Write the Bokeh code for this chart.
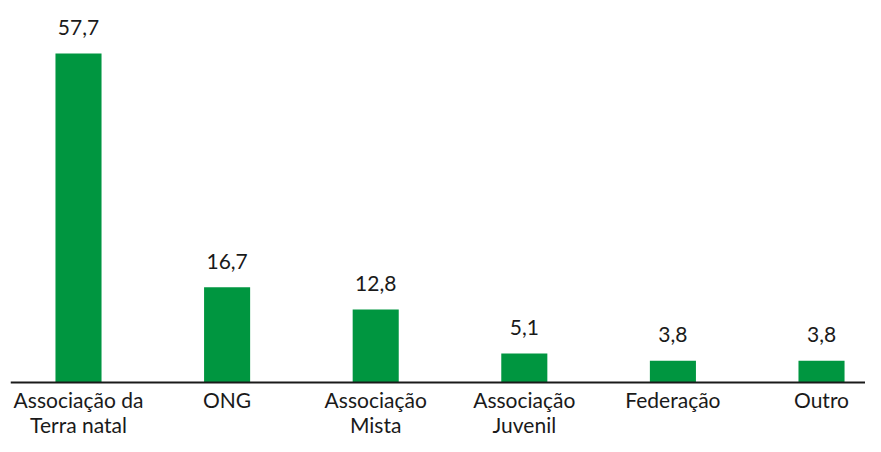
from bokeh.plotting import figure
from bokeh.models import Range1d, Span, ColumnDataSource
from bokeh.core.properties import value
from bokeh.embed import file_html
from bokeh.resources import INLINE

categories = ["Associação da\nTerra natal", "ONG", "Associação\nMista",
              "Associação\nJuvenil", "Federação", "Outro"]
values = [57.7, 16.7, 12.8, 5.1, 3.8, 3.8]
value_labels = ["57,7", "16,7", "12,8", "5,1", "3,8", "3,8"]

x = list(range(len(categories)))
src = ColumnDataSource(dict(x=x, top=values, cat=categories, lab=value_labels,
                            zero=[0] * len(x)))

p = figure(width=865, height=436, output_backend="svg", toolbar_location=None,
           x_range=Range1d(-0.4576, 5.296), y_range=Range1d(-9.47, 67.02),
           x_axis_location=None, y_axis_location=None,
           min_border_left=10, min_border_right=0, min_border_top=0, min_border_bottom=0)
p.outline_line_color = None
p.xgrid.visible = False
p.ygrid.visible = False
p.background_fill_color = "white"

p.vbar(x="x", top="top", bottom=0, width=0.31, source=src,
       fill_color="#009640", line_color=None)

p.add_layout(Span(location=0, dimension="width", line_color="#1a1a1a", line_width=2))

p.text(x="x", y="top", text="lab", source=src, text_align="center",
       text_baseline="alphabetic", y_offset=-26,
       text_font=value("Lato"), text_font_size="21px", text_color="#1a1a1a")

p.text(x="x", y="zero", text="cat", source=src, text_align="center",
       text_baseline="top", y_offset=4, text_line_height=1.0,
       text_font=value("Lato"), text_font_size="21px", text_color="#1a1a1a")

open("out.html", "w").write(file_html(p, INLINE))
